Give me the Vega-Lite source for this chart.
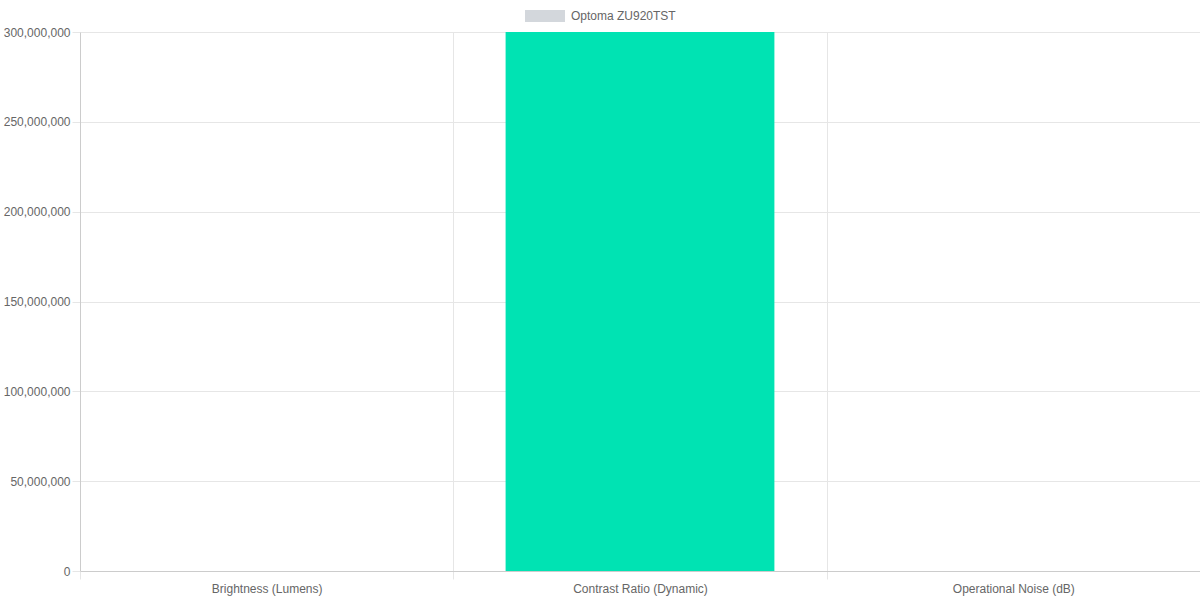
{
  "$schema": "https://vega.github.io/schema/vega-lite/v6.json",
  "autosize": {"type": "none"},
  "width": 1120,
  "height": 539,
  "padding": {"left": 80, "top": 32, "right": 0, "bottom": 29},
  "background": "#ffffff",
  "config": {
    "view": {"stroke": null},
    "font": "Liberation Sans",
    "axis": {
      "labelFont": "Liberation Sans",
      "labelFontSize": 12,
      "labelColor": "#666666",
      "gridColor": "#e6e6e6",
      "tickColor": "#e6e6e6",
      "domainColor": "#cccccc",
      "title": null
    }
  },
  "data": {
    "values": [
      {"metric": "Brightness (Lumens)", "model": "Optoma ZU920TST", "value": 9800},
      {"metric": "Contrast Ratio (Dynamic)", "model": "Optoma ZU920TST", "value": 300000000},
      {"metric": "Operational Noise (dB)", "model": "Optoma ZU920TST", "value": 32}
    ]
  },
  "encoding": {
    "x": {
      "field": "metric",
      "type": "nominal",
      "sort": null,
      "scale": {"paddingInner": 0, "paddingOuter": 0},
      "axis": {
        "labelAngle": 0,
        "tickBand": "extent",
        "grid": true,
        "tickSize": 8,
        "labelPadding": 4
      }
    },
    "y": {
      "field": "value",
      "type": "quantitative",
      "scale": {"domain": [0, 300000000], "nice": false},
      "axis": {
        "values": [0, 50000000, 100000000, 150000000, 200000000, 250000000, 300000000],
        "format": ",.0f",
        "tickSize": 8,
        "labelPadding": 2,
        "grid": true
      }
    }
  },
  "layer": [
    {
      "mark": {"type": "bar", "clip": true, "width": {"band": 0.72}, "color": "#00e3b3"}
    },
    {
      "mark": {"type": "bar", "clip": true, "width": {"band": 0.72}, "opacity": 0},
      "encoding": {
        "color": {
          "field": "model",
          "type": "nominal",
          "scale": {"range": ["#d3d7dc"]},
          "legend": {
            "title": null,
            "orient": "none",
            "legendX": 445,
            "legendY": -36,
            "symbolType": "M-1,-0.3H1V0.3H-1Z",
            "symbolSize": 1600,
            "symbolStrokeWidth": 0,
            "symbolOpacity": 1,
            "labelFont": "Liberation Sans",
            "labelFontSize": 12,
            "labelColor": "#666666",
            "labelOffset": 6
          }
        }
      }
    }
  ]
}
